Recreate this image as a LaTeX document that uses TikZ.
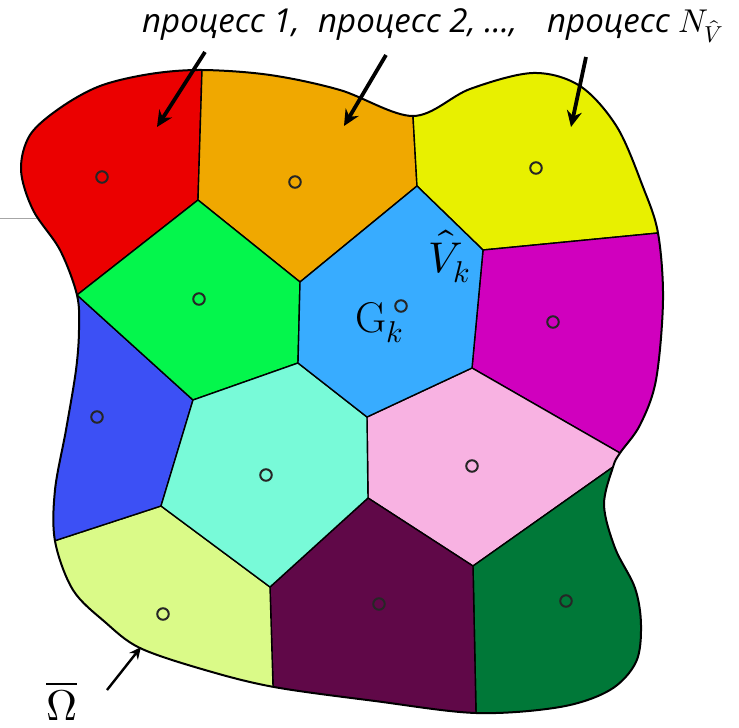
\documentclass[tikz,border=0pt]{standalone}
\usepackage{fontspec}
\usepackage{unicode-math}
\newfontfamily\labfont{Open Sans}
\usetikzlibrary{arrows.meta}
\definecolor{cRed}{RGB}{235,0,0}
\definecolor{cOrange}{RGB}{240,168,0}
\definecolor{cYellow}{RGB}{232,240,0}
\definecolor{cGreen}{RGB}{4,246,76}
\definecolor{cLBlue}{RGB}{56,172,255}
\definecolor{cMagenta}{RGB}{208,0,190}
\definecolor{cDBlue}{RGB}{60,80,245}
\definecolor{cTeal}{RGB}{120,250,216}
\definecolor{cPink}{RGB}{248,178,226}
\definecolor{cLime}{RGB}{218,250,136}
\definecolor{cPurple}{RGB}{96,8,72}
\definecolor{cDGreen}{RGB}{0,120,56}
\tikzset{
  cell/.style={draw=black, line width=1.4pt, line join=round},
  sitedot/.style={circle, draw=black!85, line width=2pt, inner sep=0pt, minimum size=11.5pt},
  bigarrow/.style={line width=3.8pt, -{Stealth[length=16pt,width=15pt]}},
  smallarrow/.style={line width=2.4pt, -{Stealth[length=12pt,width=11pt]}},
  toplabel/.style={anchor=base west, inner sep=0pt, font=\labfont\itshape\fontsize{33}{33}\selectfont},
  mathlabel/.style={anchor=base west, inner sep=0pt, font=\fontsize{43}{43}\selectfont}
}
\def\outerpath{plot[smooth cycle, tension=0.55] coordinates {
 (202,70) (270,75) (340,90) (413,116) (470,89)
 (533,73) (580,86) (617,127) (643,187) (658,233) (663,300)
 (656,380) (640,425) (620,453) (613,467) (604,505) (615,548) (635,588) (641,625)
 (636,662) (610,690) (560,707) (476,713) (375,701) (274,687)
 (205,670) (140,648) (105,622) (73,590) (55,541) (55,490) (66,430)
 (76,370) (79,330) (77,295) (60,250) (33,210) (21,170) (30,135) (60,108)
 (100,86) (150,74)}}
\begin{document}
\begin{tikzpicture}[x=1pt,y=-1pt]
\useasboundingbox (0,0) rectangle (739,728);
\fill[white] (0,0) rectangle (739,728);
\draw[black!35, line width=0.6pt] (0,218) -- (38,218);
\begin{scope}
\clip \outerpath;
% red
\filldraw[cell, fill=cRed] (77,295) -- (198,200) -- (202,70) -- (202,30) -- (0,30) -- (0,295) -- cycle;
% orange
\filldraw[cell, fill=cOrange] (198,200) -- (202,70) -- (202,30) -- (413,30) -- (413,116) -- (417,186) -- (300,282) -- cycle;
% yellow
\filldraw[cell, fill=cYellow] (417,186) -- (413,116) -- (413,30) -- (739,30) -- (739,225) -- (658,233) -- (483,250) -- cycle;
% magenta
\filldraw[cell, fill=cMagenta] (483,250) -- (658,233) -- (739,225) -- (739,453) -- (620,453) -- (472,368) -- cycle;
% pink
\filldraw[cell, fill=cPink] (367,417) -- (472,368) -- (620,453) -- (739,453) -- (739,467) -- (613,467) -- (473,566) -- (368,498) -- cycle;
% dark green
\filldraw[cell, fill=cDGreen] (473,566) -- (613,467) -- (739,467) -- (739,728) -- (476,728) -- (476,713) -- cycle;
% purple
\filldraw[cell, fill=cPurple] (368,498) -- (473,566) -- (476,713) -- (476,728) -- (274,728) -- (273,686) -- (270,587) -- cycle;
% lime
\filldraw[cell, fill=cLime] (161,506) -- (270,587) -- (273,686) -- (274,728) -- (0,728) -- (0,541) -- (54,541) -- cycle;
% dark blue
\filldraw[cell, fill=cDBlue] (77,295) -- (193,400) -- (161,506) -- (54,541) -- (0,541) -- (0,295) -- cycle;
% green
\filldraw[cell, fill=cGreen] (77,295) -- (198,200) -- (300,282) -- (298,363) -- (193,400) -- cycle;
% teal
\filldraw[cell, fill=cTeal] (193,400) -- (298,363) -- (367,417) -- (368,498) -- (270,587) -- (161,506) -- cycle;
% light blue
\filldraw[cell, fill=cLBlue] (300,282) -- (417,186) -- (483,250) -- (472,368) -- (367,417) -- (298,363) -- cycle;
\end{scope}
\draw[line width=2pt, line join=round] \outerpath;
% site dots
\node[sitedot] (dRed) at (102,177) {};
\node[sitedot] (dOrange) at (295,182) {};
\node[sitedot] (dYellow) at (536,168) {};
\node[sitedot] (dGreen) at (199,299) {};
\node[sitedot] (dLBlue) at (401,306) {};
\node[sitedot] (dMagenta) at (553,322) {};
\node[sitedot] (dDBlue) at (97,417) {};
\node[sitedot] (dTeal) at (266,475) {};
\node[sitedot] (dPink) at (472,466) {};
\node[sitedot] (dLime) at (163,614) {};
\node[sitedot] (dPurple) at (379,604) {};
\node[sitedot] (dDGreen) at (566,601) {};
% labels
\node[mathlabel] (vk) at (428,272) {$\hat{V}_k$};
\node[mathlabel] (gk) at (355,332) {$\mathrm{G}_k$};
\node[mathlabel] (om) at (46,720) {$\overline{\Omega}$};
\node[toplabel] (p1) at (142,32) {процесс 1,};
\node[toplabel] (p2) at (318,32) {процесс 2, ...,};
\node[toplabel] (p3) at (547,32) {процесс $N_{\hat{V}}$};
% arrows
\coordinate (a1s) at (205,52);
\coordinate (a1e) at (157,127);
\coordinate (a2s) at (386,55);
\coordinate (a2e) at (344,126);
\coordinate (a3s) at (586,57);
\coordinate (a3e) at (571,127);
\coordinate (a4s) at (107,690);
\coordinate (a4e) at (141,647);
\draw[bigarrow] (a1s) -- (a1e);
\draw[bigarrow] (a2s) -- (a2e);
\draw[bigarrow] (a3s) -- (a3e);
\draw[smallarrow] (a4s) -- (a4e);
\end{tikzpicture}
\end{document}
